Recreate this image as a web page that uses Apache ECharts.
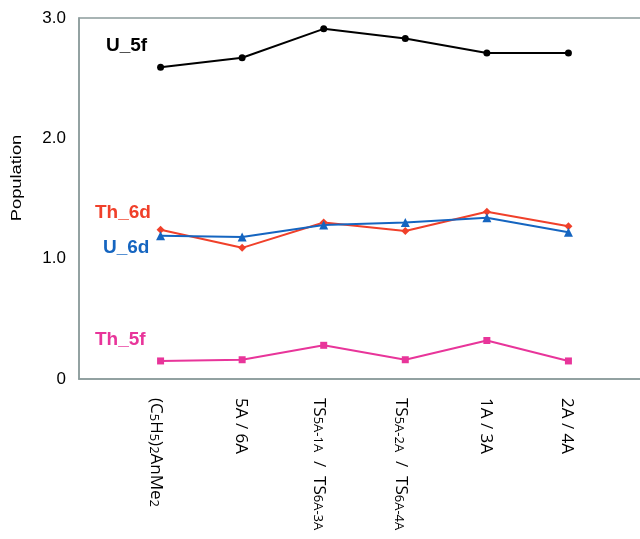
<!DOCTYPE html>
<html><head><meta charset="utf-8">
<script src="https://cdn.jsdelivr.net/npm/echarts@6/dist/echarts.min.js"></script>
<style>html,body{margin:0;padding:0;background:#fff}#c{width:640px;height:539px}</style>
</head><body><div id="c"></div>
<script>
// categories (rich-text markup for subscripts); padded with empty slots at both ends
const categories = ['', '{n|(C}{s|5}{n|H}{s|5}{n|)}{s|2}{n|AnMe}{s|2}', '{n|5A / 6A}', '{n|TS}{s|5A-1A}{n|  /  TS}{s|6A-3A}', '{n|TS}{s|5A-2A}{n|  /  TS}{s|6A-4A}', '{n|1A / 3A}', '{n|2A / 4A}', ''];
const U_5f  = [null, 2.59, 2.67, 2.91, 2.83, 2.71, 2.71, null];
const Th_6d = [null, 1.24, 1.09, 1.30, 1.23, 1.39, 1.27, null];
const U_6d  = [null, 1.19, 1.18, 1.28, 1.30, 1.34, 1.22, null];
const Th_5f = [null, 0.15, 0.16, 0.28, 0.16, 0.32, 0.15, null];
const yTicks = [0, 1, 2, 3];

const chart = echarts.init(document.getElementById('c'));
const frame = '#8c9c9c';
function s(name, data, color, symbol, size) {
  return {name, type: 'line', data, color, symbol, symbolSize: size,
    lineStyle: {width: 2, color}, itemStyle: {color}, connectNulls: false, animation: false};
}
function lbl(text, x, y, color) {
  return {type: 'text', x, y, style: {text, fill: color, font: 'bold 19px "Liberation Sans"', align: 'left', verticalAlign: 'middle'}};
}
chart.setOption({
  animation: false,
  grid: {left: 79, width: 571, top: 18, bottom: 160, show: true, borderColor: frame, borderWidth: 1.5,
         containLabel: false, outerBoundsMode: 'none'},
  xAxis: {
    type: 'category', data: categories, boundaryGap: false,
    axisLine: {lineStyle: {color: frame, width: 1.5}}, axisTick: {show: false},
    axisLabel: {
      rotate: -90, margin: 19, interval: 0, color: '#000',
      rich: {n: {fontSize: 17, fontFamily: 'Open Sans', color: '#000', verticalAlign: 'bottom', lineHeight: 20},
             s: {fontSize: 13, fontFamily: 'Open Sans', color: '#000', verticalAlign: 'bottom', lineHeight: 26}}
    }
  },
  yAxis: {
    type: 'value', min: yTicks[0], max: yTicks[yTicks.length - 1], interval: 1,
    axisLine: {show: true, lineStyle: {color: frame, width: 1.5}}, axisTick: {show: false},
    splitLine: {show: false},
    axisLabel: {fontSize: 17, fontFamily: 'Liberation Sans', color: '#000', margin: 13,
      formatter: v => v === 0 ? '0' : v.toFixed(1)}
  },
  graphic: [
    {type: 'text', x: 17, y: 178, rotation: Math.PI / 2, scaleX: 1.22,
     style: {text: 'Population', fill: '#000', font: '15px "Liberation Sans"', align: 'center', verticalAlign: 'middle'}},
    lbl('U_5f', 106, 46, '#000'),
    lbl('Th_6d', 95, 213, '#f0402a'),
    lbl('U_6d', 103, 248, '#1565c0'),
    lbl('Th_5f', 95, 340, '#e8359a')
  ],
  series: [
    s('U_5f', U_5f, '#000000', 'circle', 7),
    s('Th_6d', Th_6d, '#f0402a', 'diamond', 8),
    s('U_6d', U_6d, '#1565c0', 'triangle', 9),
    s('Th_5f', Th_5f, '#e8359a', 'rect', 7)
  ]
});
</script></body></html>
